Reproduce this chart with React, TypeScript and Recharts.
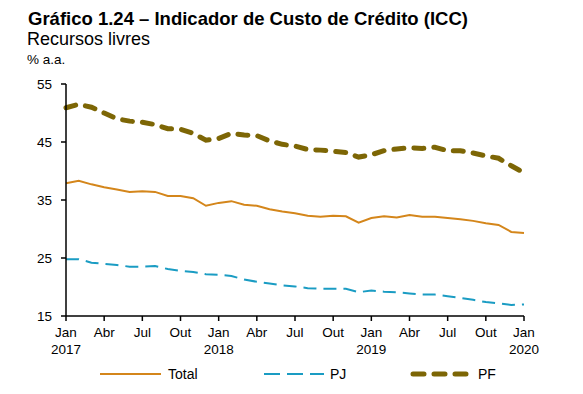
import React from 'react'
import { LineChart, Line, XAxis, YAxis } from 'recharts'

// monthly values, Jan 2017 .. Jan 2020
const total = [
    37.9, 38.3, 37.7, 37.2, 36.8, 36.4, 36.5, 36.4, 35.7, 35.7, 35.3, 34.0,
    34.5, 34.8, 34.2, 34.0, 33.4, 33.0, 32.7, 32.3, 32.1, 32.3, 32.2, 31.1,
    31.9, 32.2, 32.0, 32.4, 32.1, 32.1, 31.9, 31.7, 31.4, 31.0, 30.7, 29.5,
    29.3,
]
const pj = [
    24.8, 24.8, 24.2, 24.0, 23.8, 23.5, 23.5, 23.6, 23.1, 22.8, 22.6, 22.2,
    22.1, 21.9, 21.3, 20.9, 20.6, 20.3, 20.1, 19.8, 19.7, 19.7, 19.7, 19.1,
    19.4, 19.2, 19.1, 18.9, 18.7, 18.7, 18.4, 18.1, 17.8, 17.4, 17.2, 16.9,
    17.0,
]
const pf = [
    50.9, 51.5, 51.0, 50.0, 49.0, 48.6, 48.4, 48.0, 47.3, 47.2, 46.5, 45.3,
    45.6, 46.5, 46.2, 46.1, 45.2, 44.6, 44.3, 43.7, 43.6, 43.4, 43.2, 42.4,
    42.8, 43.5, 43.8, 44.0, 43.9, 44.1, 43.5, 43.5, 43.1, 42.6, 42.2, 40.9,
    39.7,
]

const tickIdx = [0, 3, 6, 9, 12, 15, 18, 21, 24, 27, 30, 33, 36]
const tickMonth = ['Jan', 'Abr', 'Jul', 'Out', 'Jan', 'Abr', 'Jul', 'Out', 'Jan', 'Abr', 'Jul', 'Out', 'Jan']
const tickYear = ['2017', '', '', '', '2018', '', '', '', '2019', '', '', '', '2020']
const yTicks = [15, 25, 35, 45, 55]

const data = total.map((v, i) => ({ i, total: v, pj: pj[i], pf: pf[i] }))

const C_TOTAL = '#D4861B'
const C_PJ = '#1A9CC3'
const C_PF = '#7D6605'
const FONT = '"Liberation Sans", Arial, sans-serif'

const MonthTick = ({ x, y, payload }: any) => {
    const k = tickIdx.indexOf(payload.value)
    return (
        <g>
            <text x={x} y={y + 16} textAnchor="middle" fontSize={13.5} fill="#000" fontFamily={FONT}>
                {tickMonth[k]}
            </text>
            {tickYear[k] && (
                <text x={x} y={y + 33} textAnchor="middle" fontSize={13.5} fill="#000" fontFamily={FONT}>
                    {tickYear[k]}
                </text>
            )}
        </g>
    )
}

// legend drawn by hand to get the PF dash/dot look
const LegendBox = () => (
    <svg width={583} height={24} style={{ position: 'absolute', left: 0, top: 362 }}>
        <line x1={100} y1={12} x2={161} y2={12} stroke={C_TOTAL} strokeWidth={2} />
        <text x={168} y={17} fontSize={14} fontFamily={FONT}>Total</text>
        <line x1={264} y1={12} x2={324} y2={12} stroke={C_PJ} strokeWidth={2} strokeDasharray="16 7" />
        <text x={330} y={17} fontSize={14} fontFamily={FONT}>PJ</text>
        <line x1={413} y1={12} x2={473} y2={12} stroke={C_PF} strokeWidth={5} strokeDasharray="11 10" strokeLinecap="round" />
        <text x={478} y={17} fontSize={14} fontFamily={FONT}>PF</text>
    </svg>
)

export default function App() {
    return (
        <div style={{ position: 'absolute', left: 0, top: 0, width: 583, height: 394, background: '#fff', fontFamily: FONT }}>
            <div style={{ position: 'absolute', left: 28, top: 8, fontSize: 18.5, fontWeight: 'bold', whiteSpace: 'nowrap' }}>
                Gráfico 1.24 – Indicador de Custo de Crédito (ICC)
            </div>
            <div style={{ position: 'absolute', left: 27, top: 29, fontSize: 18, whiteSpace: 'nowrap' }}>Recursos livres</div>
            <div style={{ position: 'absolute', left: 27, top: 52, fontSize: 13.5, whiteSpace: 'nowrap' }}>% a.a.</div>
            <div style={{ position: 'absolute', left: 0, top: 0 }}>
                <LineChart width={583} height={394} data={data} margin={{ top: 84, right: 59, bottom: 0, left: 36 }}>
                    <XAxis
                        dataKey="i"
                        type="number"
                        domain={[0, 36]}
                        ticks={tickIdx}
                        interval={0}
                        tick={<MonthTick />}
                        tickSize={5}
                        tickMargin={0}
                        axisLine={{ stroke: '#000', strokeWidth: 1.5 }}
                        tickLine={{ stroke: '#000', strokeWidth: 1.5 }}
                        height={78}
                    />
                    <YAxis
                        type="number"
                        domain={[15, 55]}
                        ticks={yTicks}
                        interval={0}
                        width={30}
                        tickSize={5}
                        tickMargin={9}
                        tick={{ fill: '#000', fontSize: 13.5, fontFamily: FONT }}
                        axisLine={{ stroke: '#000', strokeWidth: 1.5 }}
                        tickLine={{ stroke: '#000', strokeWidth: 1.5 }}
                    />
                    <Line dataKey="total" stroke={C_TOTAL} strokeWidth={2} dot={false} isAnimationActive={false} />
                    <Line dataKey="pj" stroke={C_PJ} strokeWidth={2} strokeDasharray="13 7" dot={false} isAnimationActive={false} />
                    <Line dataKey="pf" stroke={C_PF} strokeWidth={5} strokeDasharray="10 10" strokeLinecap="round" dot={false} isAnimationActive={false} />
                </LineChart>
            </div>
            <LegendBox />
        </div>
    )
}
